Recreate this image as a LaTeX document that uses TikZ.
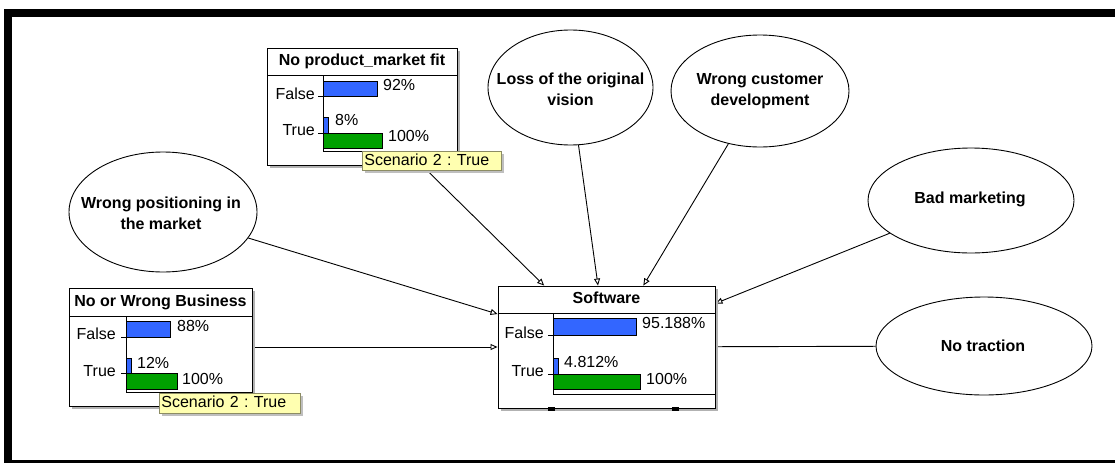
\documentclass[tikz,border=0pt]{standalone}
\usepackage{fontspec}
\setmainfont{Liberation Sans}
\usetikzlibrary{shapes.geometric,arrows.meta,shadows}
\definecolor{barblue}{RGB}{51,102,255}
\definecolor{bargreen}{RGB}{0,160,0}
\definecolor{scenfill}{RGB}{255,255,176}
\definecolor{scenline}{RGB}{140,140,100}
\frenchspacing
\begin{document}
\begin{tikzpicture}[x=1pt,y=-1pt,
  bnbox/.style={rectangle, draw=black, line width=0.9pt, fill=white, inner sep=0pt,
    drop shadow={shadow xshift=3pt, shadow yshift=-3pt, fill=black!30, opacity=1}},
  bnell/.style={ellipse, draw=black, line width=0.9pt, fill=white, inner sep=0pt},
  etext/.style={font=\bfseries\fontsize{16}{21}\selectfont, align=center, inner sep=0pt},
  ttl/.style={font=\bfseries\fontsize{16}{19}\selectfont, inner sep=0pt, text height=0.72em, text depth=0pt},
  lbl/.style={font=\fontsize{16}{19}\selectfont, inner sep=0pt, text height=0.72em, text depth=0pt},
  fbar/.style={draw=black, line width=0.9pt, fill=barblue},
  gbar/.style={draw=black, line width=0.9pt, fill=bargreen},
  axis/.style={line width=0.9pt},
  scen/.style={draw=scenline, line width=0.8pt, fill=scenfill, anchor=north west,
    font=\fontsize{16}{19}\selectfont\frenchspacing, inner xsep=2pt, inner ysep=0pt, align=left,
    text height=12.5pt, text depth=4pt,
    drop shadow={shadow xshift=3pt, shadow yshift=-3pt, fill=black!25, opacity=1}},
  link/.style={line width=0.9pt, -{Triangle[open,length=7pt,width=6pt]}},
  plain/.style={line width=0.9pt}
]
\useasboundingbox (0,0) rectangle (1115,463);
% frame
\fill[black] (4,9) rectangle (1115,17);
\fill[black] (4,9) rectangle (12,463);
\fill[black] (4,460) rectangle (1115,463);

% nodes (shapes)
\node[bnbox, minimum width=190pt, minimum height=117pt] (pmf) at (362,106.5) {};
\node[bnbox, minimum width=183pt, minimum height=118pt] (biz) at (160.5,347) {};
\node[bnbox, minimum width=217pt, minimum height=122pt] (sw) at (606.5,347) {};
\node[bnell, minimum width=165pt, minimum height=115pt] (loss) at (570.5,87.5) {};
\node[bnell, minimum width=178pt, minimum height=112pt] (cust) at (760,91) {};
\node[bnell, minimum width=188pt, minimum height=120pt] (pos) at (163,212) {};
\node[bnell, minimum width=206pt, minimum height=105pt] (bad) at (971,200.5) {};
\node[bnell, minimum width=216pt, minimum height=98pt] (trac) at (984,346) {};

% connectors
\draw[link] (pmf) -- (sw);
\draw[link] (loss) -- (sw);
\draw[link] (cust) -- (sw);
\draw[link] (pos) -- (sw);
\draw[link] (biz) -- (sw);
\draw[link] (bad) -- (sw);
\draw[plain] (sw) -- (trac);

% redraw boxes on top of connectors
\node[bnbox, minimum width=190pt, minimum height=117pt] (pmfb) at (362,106.5) {};
\node[bnbox, minimum width=183pt, minimum height=118pt] (bizb) at (160.5,347) {};
\node[bnbox, minimum width=217pt, minimum height=122pt] (swb) at (606.5,347) {};

% ellipse texts
\node[etext] (losst) at (570.5,89) {Loss of the original\\vision};
\node[etext] (custt) at (760,91.5) {Wrong customer\\development};
\node[etext] (post) at (161,213) {Wrong positioning in\\the market};
\node[etext] (badt) at (970,199) {Bad marketing};
\node[etext] (tract) at (983,346) {No traction};

% ---- box A: No product_market fit
\node[ttl] (pmft) at (362,62) {No product\_market fit};
\draw[axis] (267,75) -- (457,75);
\draw[axis] (323,75) -- (323,151) -- (457,151);
\draw[axis] (318,96) -- (323,96);
\draw[axis] (318,133) -- (323,133);
\draw[fbar] (323,81) rectangle (377,96);
\draw[fbar] (323,117) rectangle (328,133);
\draw[gbar] (323,133) rectangle (382,148);
\node[lbl, anchor=east] (pmfF) at (315,95.5) {False};
\node[lbl, anchor=east] (pmfT) at (315,131.5) {True};
\node[lbl, anchor=west] (pmfp1) at (383,87) {92\%};
\node[lbl, anchor=west] (pmfp2) at (335,122) {8\%};
\node[lbl, anchor=west] (pmfp3) at (388,138) {100\%};
\node[scen, minimum height=19pt, text width=135pt] (pmfs) at (362,151) {Scenario 2 : True};

% ---- box B: No or Wrong Business
\node[ttl] (bizt) at (160.5,302.5) {No or Wrong Business};
\draw[axis] (69,316) -- (252,316);
\draw[axis] (126,316) -- (126,392) -- (252,392);
\draw[axis] (121,337) -- (126,337);
\draw[axis] (121,373) -- (126,373);
\draw[fbar] (126,321) rectangle (170,337);
\draw[fbar] (126,358) rectangle (131,373);
\draw[gbar] (126,373) rectangle (177,389);
\node[lbl, anchor=east] (bizF) at (116,336) {False};
\node[lbl, anchor=east] (bizT) at (116,373) {True};
\node[lbl, anchor=west] (bizp1) at (177,328) {88\%};
\node[lbl, anchor=west] (bizp2) at (137,364.5) {12\%};
\node[lbl, anchor=west] (bizp3) at (182,380.5) {100\%};
\node[scen, minimum height=20pt, text width=137pt] (bizs) at (159,393) {Scenario 2 : True};

% ---- box C: Software
\node[ttl] (swt) at (606.5,300) {Software};
\draw[axis] (498,313) -- (715,313);
\draw[axis] (553,313) -- (553,394) -- (715,394);
\draw[axis] (548,335) -- (553,335);
\draw[axis] (548,374) -- (553,374);
\draw[fbar] (553,318) rectangle (636,335);
\draw[fbar] (553,358) rectangle (558,374);
\draw[gbar] (553,374) rectangle (640,389);
\node[lbl, anchor=east] (swF) at (544,334.5) {False};
\node[lbl, anchor=east] (swT) at (544,373) {True};
\node[lbl, anchor=west] (swp1) at (642,324.5) {95.188\%};
\node[lbl, anchor=west] (swp2) at (564,363.5) {4.812\%};
\node[lbl, anchor=west] (swp3) at (646,380.5) {100\%};
\fill[black] (548,407) rectangle (555,411);
\fill[black] (672,407) rectangle (679,411);
\end{tikzpicture}
\end{document}
